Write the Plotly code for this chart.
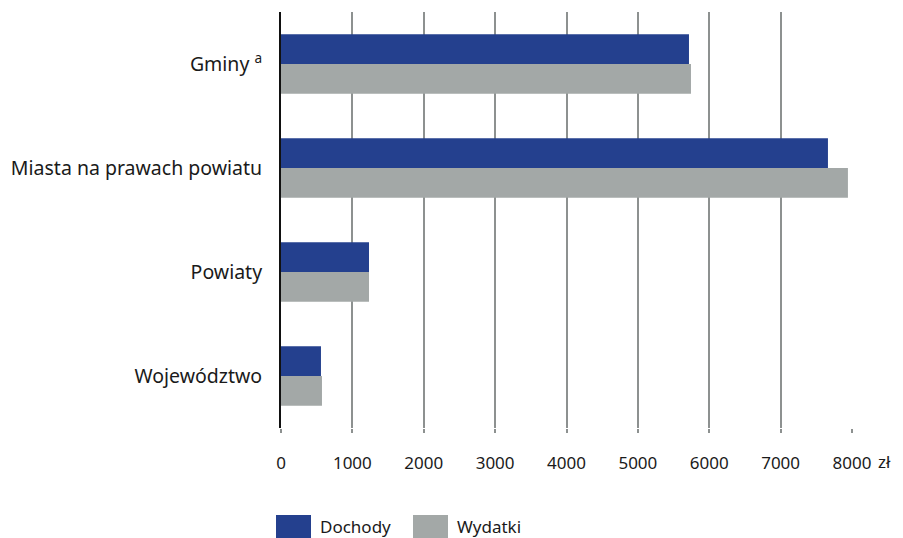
import plotly.graph_objects as go

categories = ["Gminy <sup>a</sup>", "Miasta na prawach powiatu", "Powiaty", "Województwo"]
dochody = [5716, 7663, 1233, 560]
wydatki = [5744, 7943, 1233, 574]
tick_vals = [0, 1000, 2000, 3000, 4000, 5000, 6000, 7000, 8000]
tick_text = ["0", "1000", "2000", "3000", "4000", "5000", "6000", "7000", "8000"]

OFF = 8  # page body margin
W, H = 903 - OFF, 538 - OFF
L, T = 281 - OFF, 12 - OFF
R = W - (852 - OFF)
B = H - (428 - OFF)
PW, PH = W - L - R, H - T - B
FONT = "Noto Sans"
TXT = "#1a1a1a"
C_D = "#24408e"
C_W = "#a3a8a7"

def px_x(x):
    return (x - OFF - L) / PW

def px_y(y):
    return (H - B - (y - OFF)) / PH

fig = go.Figure()
fig.add_trace(go.Bar(y=categories, x=dochody, orientation="h", name="Dochody",
                     marker=dict(color=C_D, line=dict(width=0))))
fig.add_trace(go.Bar(y=categories, x=wydatki, orientation="h", name="Wydatki",
                     marker=dict(color=C_W, line=dict(width=0))))

fig.update_layout(
    width=W, height=H,
    margin=dict(l=L, r=R, t=T, b=B, pad=0),
    barmode="group", bargap=0.43, bargroupgap=0,
    plot_bgcolor="white", paper_bgcolor="white",
    showlegend=False,
    font=dict(family=FONT, size=16, color=TXT),
    xaxis=dict(range=[0, 8000], tickvals=tick_vals, ticktext=tick_text,
               showgrid=True, gridcolor="#8d9190", gridwidth=2,
               ticks="outside", ticklen=4, tickcolor="#8d9190", tickwidth=2,
               zeroline=False, showline=False, ticklabelstandoff=16,
               tickfont=dict(size=17, color=TXT)),
    yaxis=dict(range=[3.5, -0.5], showline=True, linecolor="#111111", linewidth=2,
               ticks="", ticklabelstandoff=13, showgrid=False,
               tickfont=dict(size=19.5, color=TXT)),
)

# unit suffix after the last tick label
fig.add_annotation(x=8000, y=px_y(461), xref="x", yref="paper",
                   xshift=32, text="zł", showarrow=False, yanchor="middle",
                   xanchor="center", font=dict(size=17, color=TXT))

# legend
for x0, x1, col, label in [(276, 311, C_D, "Dochody"), (413, 448, C_W, "Wydatki")]:
    fig.add_shape(type="rect", xref="paper", yref="paper",
                  x0=px_x(x0), x1=px_x(x1), y0=px_y(540), y1=px_y(515),
                  fillcolor=col, line=dict(width=0))
    fig.add_annotation(xref="paper", yref="paper", x=px_x(x1 + 7), y=px_y(526),
                       text=label, showarrow=False, xanchor="left", yanchor="middle",
                       font=dict(size=17, color=TXT))

fig.write_html("out.html")
